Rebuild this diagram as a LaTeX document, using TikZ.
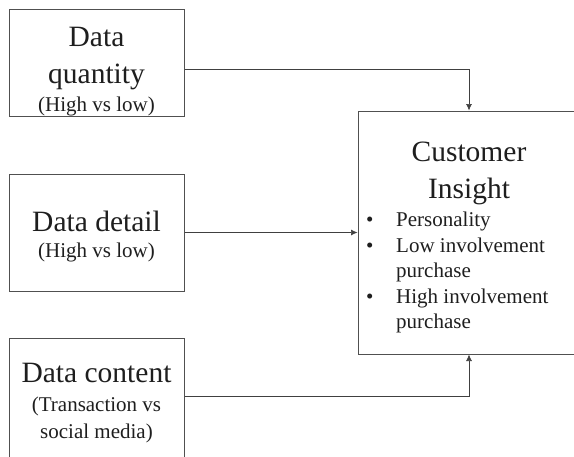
\documentclass[tikz,border=0pt]{standalone}
\usepackage{fontspec}
\setmainfont{Liberation Serif}
\usetikzlibrary{arrows.meta}
\definecolor{ink}{HTML}{1E1E1E}
\definecolor{frame}{HTML}{505050}
\begin{document}
\begin{tikzpicture}[x=1pt,y=-1pt,
  box/.style={draw=frame,line width=1pt,rectangle,inner sep=0pt},
  big/.style={inner sep=0pt,anchor=base,text=ink,font=\fontsize{29.5}{35}\selectfont},
  small/.style={inner sep=0pt,anchor=base,text=ink,font=\fontsize{21}{25}\selectfont},
  bul/.style={inner sep=0pt,anchor=base west,text=ink,font=\fontsize{21}{25}\selectfont},
  link/.style={draw=ink!85,line width=0.7pt,-{Latex[length=6.5pt,width=6pt]}}]
\useasboundingbox (0,0) rectangle (574,456);

% input boxes
\node[box,minimum width=175pt,minimum height=107pt] (qbox) at (96.5,62.5) {};
\node[box,minimum width=175pt,minimum height=117pt] (dbox) at (96.5,232.5) {};
\node[box,minimum width=175pt,minimum height=124pt] (cbox) at (96.5,400) {};
% outcome box
\node[box,minimum width=222pt,minimum height=243pt] (insight) at (469,232.5) {};

% labels of the input boxes
\node[big] (q1) at (96.5,46.7) {Data};
\node[big] (q2) at (96.5,83.3) {quantity};
\node[small] (q3) at (96.5,111.5) {(High vs low)};
\node[big] (d1) at (96.5,231) {Data detail};
\node[small] (d2) at (96.5,257) {(High vs low)};
\node[big] (c1) at (96.5,382.7) {Data content};
\node[small] (c2) at (96.5,411.7) {(Transaction vs};
\node[small] (c3) at (96.5,438.3) {social media)};

% outcome text
\node[big] (i1) at (469,161.7) {Customer};
\node[big] (i2) at (469,198.3) {Insight};
\node[bul] (b1) at (366,226) {•};
\node[bul] (p1) at (396,226) {Personality};
\node[bul] (b2) at (366,252.5) {•};
\node[bul] (p2) at (396,252.5) {Low involvement};
\node[bul] (p3) at (396,277) {purchase};
\node[bul] (b3) at (366,303) {•};
\node[bul] (p4) at (396,303) {High involvement};
\node[bul] (p5) at (396,328.5) {purchase};

% connectors
\draw[link] (qbox.east |- 0,69) -| (insight.north);
\draw[link] (dbox.east) -- (insight.west);
\draw[link] (cbox.east |- 0,396) -| (insight.south);
\end{tikzpicture}
\end{document}
